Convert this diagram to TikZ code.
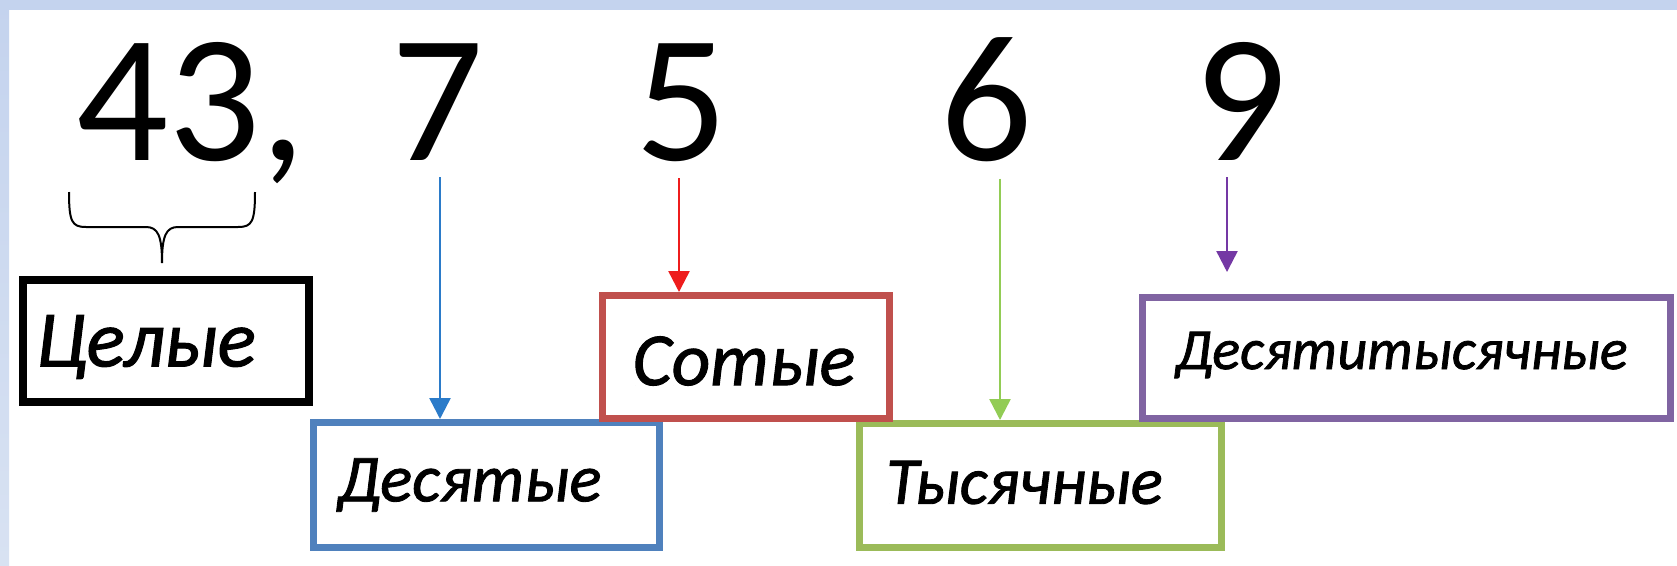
\documentclass[tikz,border=0pt]{standalone}
\usepackage{fontspec}
\setmainfont{Carlito}
\newfontfamily\lblfont{Carlito}[ItalicFeatures={FakeBold=1.3}]
\usepackage{tikz}
\usetikzlibrary{positioning,arrows.meta,calc}
\definecolor{PFrame}{HTML}{C4D3EE}
\definecolor{PFrameLow}{HTML}{D8E2F2}
\definecolor{PBlue}{HTML}{4F81BD}
\definecolor{PBlueArr}{HTML}{2B7BC9}
\definecolor{PRed}{HTML}{C0504D}
\definecolor{PRedArr}{HTML}{EE1C1C}
\definecolor{PGreen}{HTML}{9BBB59}
\definecolor{PGreenArr}{HTML}{92CC55}
\definecolor{PPurple}{HTML}{8064A2}
\definecolor{PPurpleArr}{HTML}{7438A4}
\newcommand{\lblsize}[1]{\lblfont\fontsize{#1}{#1}\selectfont\itshape}

\begin{document}
\begin{tikzpicture}[
  x=1pt, y=-1pt,
  digit/.style={inner sep=0pt, anchor=base, font=\fontsize{182}{182}\selectfont},
  placebox/.style={draw, line width=7pt, inner sep=0pt},
  boxlabel/.style={inner sep=0pt, text=black},
  arrow/.style={-{Triangle[length=21pt,width=21pt]}, line width=2.5pt}
]
\useasboundingbox (0,0) rectangle (1677,565);
\fill[white] (0,0) rectangle (1677,565);
\shade[top color=PFrame, bottom color=PFrameLow] (0,0) rectangle (9,565);
\fill[PFrame] (0,0) rectangle (1677,10);

\node[digit, anchor=base west] (d43) at (76,160) {43,};
\node[digit] (d7) at (438,160) {7};
\node[digit] (d5) at (682,160) {5};
\node[digit] (d6) at (987,160) {6};
\node[digit] (d9) at (1241,160) {9};

\node[placebox, draw=PBlue, minimum width=346pt, minimum height=125pt,
  label={[boxlabel, font=\lblsize{67}, xshift=-17pt]center:Десятые}] (tenths) at (486.5,485) {};
\node[placebox, draw=PGreen, minimum width=362pt, minimum height=124pt,
  label={[boxlabel, font=\lblsize{67}, xshift=-16pt, yshift=3pt]center:Тысячные}] (thousandths) at (1040.5,485.5) {};
\node[placebox, draw=black, line width=8pt, minimum width=286pt, minimum height=122pt,
  label={[boxlabel, font=\lblsize{80}, xshift=-20pt, yshift=-6pt]center:Целые}] (wholes) at (166,341) {};
\node[placebox, draw=PRed, minimum width=287pt, minimum height=123pt,
  label={[boxlabel, font=\lblsize{75}, xshift=-2pt, yshift=-4pt]center:Сотые}] (hundredths) at (746,357) {};
\node[placebox, draw=PPurple, minimum width=528pt, minimum height=121pt,
  label={[boxlabel, font=\lblsize{58}, xshift=-5pt, yshift=3pt]center:Десятитысячные}] (tenthousandths) at (1406.5,358) {};

\draw[line width=2pt] (69,192) .. controls (69,222) and (72,227) .. (86,227) -- (146,227)
  .. controls (158,227) and (162,236) .. (162,263)
  .. controls (162,236) and (166,227) .. (178,227) -- (238,227)
  .. controls (252,227) and (255,222) .. (255,192);

\draw[arrow, PBlueArr] ([xshift=2pt, yshift=-17pt]d7.south) -- ([xshift=2pt]d7.south |- tenths.north);
\draw[arrow, PRedArr] ([xshift=-3pt, yshift=-17pt]d5.south) -- ([xshift=-3pt]d5.south |- hundredths.north);
\draw[arrow, PGreenArr] ([xshift=13pt, yshift=-17pt]d6.south) -- ([xshift=13pt]d6.south |- thousandths.north);
\draw[arrow, PPurpleArr, shorten >=22pt] ([xshift=-14pt, yshift=-17pt]d9.south) -- ([xshift=-14pt]d9.south |- tenthousandths.north);
\end{tikzpicture}
\end{document}
